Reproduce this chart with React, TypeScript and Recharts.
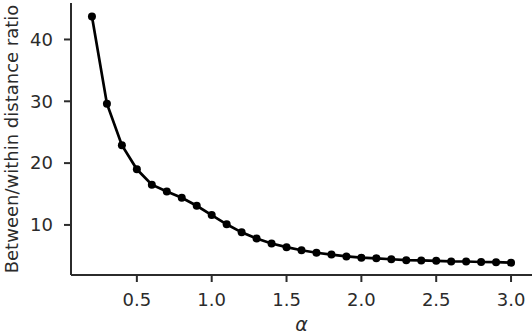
import { Label, Line, LineChart, XAxis, YAxis } from "recharts";

const alphas = [0.2, 0.3, 0.4, 0.5, 0.6, 0.7, 0.8, 0.9, 1.0, 1.1, 1.2, 1.3, 1.4, 1.5, 1.6, 1.7, 1.8, 1.9, 2.0, 2.1, 2.2, 2.3, 2.4, 2.5, 2.6, 2.7, 2.8, 2.9, 3.0];
const ratios = [43.7, 29.6, 22.9, 19.0, 16.5, 15.4, 14.4, 13.1, 11.6, 10.1, 8.8, 7.8, 7.0, 6.4, 5.9, 5.5, 5.2, 4.9, 4.7, 4.6, 4.45, 4.3, 4.25, 4.2, 4.1, 4.08, 4.0, 3.98, 3.9];
const xTicks = [0.5, 1.0, 1.5, 2.0, 2.5, 3.0];
const yTicks = [10, 20, 30, 40];

const ink = "#2b2b2b";
const font = "DejaVu Sans, sans-serif";

export default function App() {
  const rows = alphas.map((a, i) => ({ alpha: a, ratio: ratios[i] }));

  return (
    <div style={{ position: "absolute", left: 0, top: 0, background: "#fff" }}>
      <LineChart width={532} height={336} data={rows} margin={{ top: 3, right: 0, bottom: 0, left: 0 }}>
        <XAxis
          dataKey="alpha"
          type="number"
          domain={[0.06, 3.14]}
          ticks={xTicks}
          tickFormatter={(v: number) => v.toFixed(1)}
          height={61}
          tickSize={7}
          tickMargin={11}
          stroke={ink}
          strokeWidth={2}
          tick={{ fill: ink, fontSize: 18, fontFamily: font }}
        >
          <Label
            content={({ viewBox }: any) => (
              <text
                x={viewBox.x + viewBox.width / 2}
                y={331}
                textAnchor="middle"
                fill={ink}
                fontSize={19}
                fontFamily={font}
                fontStyle="italic"
              >
                α
              </text>
            )}
          />
        </XAxis>
        <YAxis
          type="number"
          domain={[1.9, 45.9]}
          ticks={yTicks}
          width={71}
          tickSize={7}
          tickMargin={11}
          stroke={ink}
          strokeWidth={2}
          tick={{ fill: ink, fontSize: 18, fontFamily: font }}
        >
          <Label
            content={({ viewBox }: any) => {
              const cy = viewBox.y + viewBox.height / 2;
              return (
                <text
                  x={11}
                  y={cy}
                  transform={`rotate(-90, 11, ${cy})`}
                  textAnchor="middle"
                  dominantBaseline="central"
                  fill={ink}
                  fontSize={18}
                  fontFamily={font}
                >
                  Between/within distance ratio
                </text>
              );
            }}
          />
        </YAxis>
        <Line
          dataKey="ratio"
          type="linear"
          stroke="#000"
          strokeWidth={2.7}
          dot={{ r: 4, fill: "#000", stroke: "#000", strokeWidth: 0 }}
          isAnimationActive={false}
        />
      </LineChart>
    </div>
  );
}
